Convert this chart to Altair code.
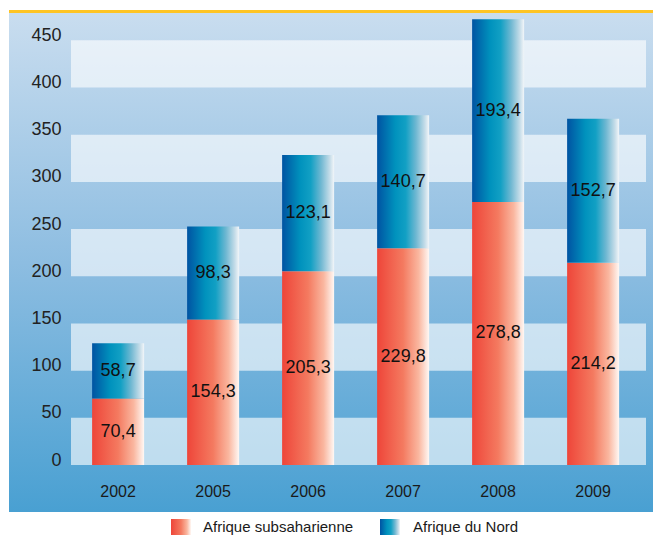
import altair as alt
import pandas as pd

years = ["2002", "2005", "2006", "2007", "2008", "2009"]
subsaharan = [70.4, 154.3, 205.3, 229.8, 278.8, 214.2]
north = [58.7, 98.3, 123.1, 140.7, 193.4, 152.7]
series = ["Afrique subsaharienne", "Afrique du Nord"]
y_ticks = [0, 50, 100, 150, 200, 250, 300, 350, 400, 450]
band_starts = [0, 100, 200, 300, 400]

W, H = 575, 453
YMAX = 480

def fmt(v):
    return f"{v:.1f}".replace(".", ",")

df = pd.DataFrame({
    "year": years,
    "sub": subsaharan,
    "nord": north,
})
df["total"] = df["sub"] + df["nord"]
df["sub_mid"] = df["sub"] / 2
df["nord_mid"] = df["sub"] + df["nord"] / 2
df["sub_lbl"] = [fmt(v) for v in subsaharan]
df["nord_lbl"] = [fmt(v) for v in north]

bands = pd.DataFrame({"y0": band_starts, "y1": [b + 50 for b in band_starts]})

red_grad = alt.LinearGradient(
    gradient="linear", x1=0, x2=1, y1=0, y2=0,
    stops=[
        alt.GradientStop(offset=0, color="#ee4539"),
        alt.GradientStop(offset=0.5, color="#f47a60"),
        alt.GradientStop(offset=0.8, color="#fab7a0"),
        alt.GradientStop(offset=1, color="#fff8f4"),
    ],
)
blue_grad = alt.LinearGradient(
    gradient="linear", x1=0, x2=1, y1=0, y2=0,
    stops=[
        alt.GradientStop(offset=0, color="#0053a2"),
        alt.GradientStop(offset=0.35, color="#0092bd"),
        alt.GradientStop(offset=0.55, color="#12a0c4"),
        alt.GradientStop(offset=0.75, color="#70b8d2"),
        alt.GradientStop(offset=0.92, color="#c6dde9"),
        alt.GradientStop(offset=1, color="#f2f6f9"),
    ],
)
bg_grad = alt.LinearGradient(
    gradient="linear", x1=0, x2=0, y1=0, y2=1,
    stops=[
        alt.GradientStop(offset=0, color="#c9ddef"),
        alt.GradientStop(offset=0.5, color="#8dbde1"),
        alt.GradientStop(offset=1, color="#49a0d2"),
    ],
)

FONT = "Liberation Sans"

xscale = alt.Scale(domain=years, paddingInner=0.4526, paddingOuter=0.2526, align=0.44)
yscale = alt.Scale(domain=[0, YMAX], nice=False)

base = alt.Chart(df)

background = alt.Chart(pd.DataFrame({"a": [0]})).mark_rect(fill=bg_grad).encode(
    x=alt.value(-62), x2=alt.value(W + 7), y=alt.value(1), y2=alt.value(500)
)
topline = alt.Chart(pd.DataFrame({"a": [0]})).mark_rule(
    color="#fec424", strokeWidth=3
).encode(x=alt.value(-62), x2=alt.value(W + 7), y=alt.value(-0.5))

band_layer = alt.Chart(bands).mark_rect(color="white", opacity=0.62).encode(
    x=alt.value(0), x2=alt.value(W),
    y=alt.Y("y0:Q", scale=yscale,
            axis=alt.Axis(values=y_ticks, title=None, ticks=False, domain=False,
                          grid=False, labelFont=FONT, labelFontSize=18,
                          labelColor="#222222", labelPadding=10,
                          labelBaseline="alphabetic", zindex=2)),
    y2="y1:Q",
)

xaxis = alt.Axis(title=None, ticks=False, domain=False, labelAngle=0,
                 labelFont=FONT, labelFontSize=16, labelColor="#1a1a1a",
                 labelPadding=18, zindex=2)

bars_sub = base.mark_bar(fill=red_grad).encode(
    x=alt.X("year:N", scale=xscale, axis=xaxis, sort=years),
    y=alt.Y("sub:Q", scale=yscale),
)
bars_nord = base.mark_bar(fill=blue_grad).encode(
    x=alt.X("year:N", scale=xscale, sort=years),
    y=alt.Y("sub:Q", scale=yscale),
    y2="total:Q",
)
txt_sub = base.mark_text(font=FONT, fontSize=18, color="#111111").encode(
    x=alt.X("year:N", scale=xscale, sort=years),
    y=alt.Y("sub_mid:Q", scale=yscale),
    text="sub_lbl:N",
)
txt_nord = base.mark_text(font=FONT, fontSize=18, color="#111111").encode(
    x=alt.X("year:N", scale=xscale, sort=years),
    y=alt.Y("nord_mid:Q", scale=yscale),
    text="nord_lbl:N",
)

# manual legend with gradient swatches
leg_red = alt.Chart(pd.DataFrame({"s": [series[0]]})).mark_rect(fill=red_grad).encode(
    x=alt.value(100), x2=alt.value(120), y=alt.value(507), y2=alt.value(523)
)
leg_blue = alt.Chart(pd.DataFrame({"s": [series[1]]})).mark_rect(fill=blue_grad).encode(
    x=alt.value(309), x2=alt.value(329), y=alt.value(507), y2=alt.value(523)
)
leg_txt = alt.Chart(pd.DataFrame({"s": series, "px": [132, 342]})).mark_text(
    font=FONT, fontSize=15, color="#1a1a1a", align="left", baseline="middle"
).encode(
    x=alt.X("px:Q", scale=None), y=alt.value(515), text="s:N"
)

chart = alt.layer(
    background, topline, band_layer, bars_sub, bars_nord, txt_sub, txt_nord,
    leg_red, leg_blue, leg_txt,
).properties(
    width=W, height=H,
    autosize=alt.AutoSizeParams(type="none"),
    padding={"left": 63, "top": 4, "right": 7, "bottom": 72},
).configure_view(stroke=None).configure(background="white")

chart.save("out.html", embed_options={"renderer": "svg", "actions": False})
